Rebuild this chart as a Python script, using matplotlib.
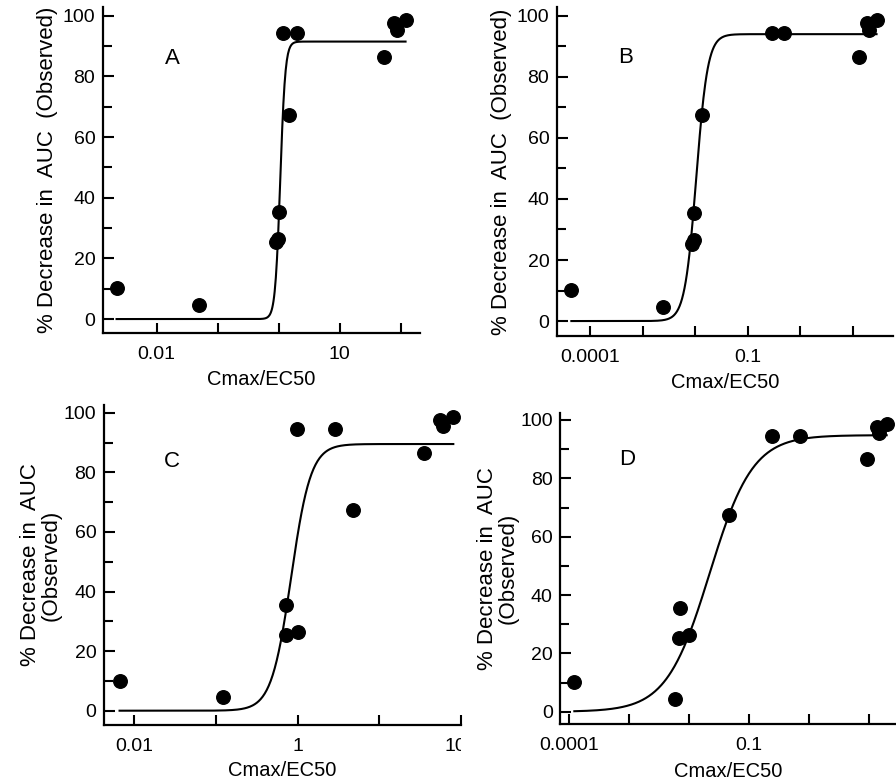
import matplotlib.pyplot as plt
import numpy as np
from matplotlib.ticker import FixedLocator, FixedFormatter, MultipleLocator
from matplotlib.transforms import Bbox, TransformedBbox, blended_transform_factory, offset_copy

plt.rcParams['font.family'] = ['Liberation Sans', 'DejaVu Sans']

# observed % decrease in AUC, same 12 drugs in every panel
observed = [10.1, 4.5, 25.4, 26.4, 35.4, 67.4, 94.4, 94.4, 86.5, 97.6, 95.4, 98.5]

# Cmax/EC50 for each drug, one list per panel (same order as observed)
ratio_A = [0.0022, 0.049, 0.90, 0.99, 1.02, 1.45, 1.19, 2.02, 53.3, 77.6, 88.1, 120.0]
ratio_B = [4.4e-5, 0.0024, 0.0085, 0.0093, 0.0095, 0.0132, 0.29, 0.48, 12.9, 18.2, 20.4, 28.2]
ratio_C = [0.0066, 0.121, 0.71, 1.0, 0.72, 4.71, 0.97, 2.86, 35.6, 55.3, 60.3, 80.5]
ratio_D = [1.24e-4, 0.0058, 0.0069, 0.0099, 0.0072, 0.0458, 0.238, 0.703, 9.04, 13.2, 14.7, 19.4]

# fitted sigmoid (top, log10 EC50, hill slope) for each panel
fit_A = (91.5, 0.025, 10.5)
fit_B = (94.0, -1.98, 3.97)
fit_C = (89.5, -0.08, 3.6)
fit_D = (94.8, -1.657, 1.21)

panel_letters = ['A', 'B', 'C', 'D']
tick_labels_A = {0.01: '0.01', 10: '10'}
tick_labels_B = {1e-4: '0.0001', 0.1: '0.1'}
tick_labels_C = {0.01: '0.01', 1: '1'}
tick_labels_D = {1e-4: '0.0001', 0.1: '0.1'}

W, H = 896, 784
fig = plt.figure(figsize=(W / 100, H / 100), dpi=100)


def px_rect(left, right, top, bottom):
    return [left / W, 1 - bottom / H, (right - left) / W, (bottom - top) / H]


def draw_panel(rect, ratio, fit, letter, letter_pos, xlim_log, ylim, tick_labels, ylabel, ylab_x, xlab_y):
    ax = fig.add_axes(rect)
    ax.set_xscale('log')

    x = np.logspace(np.log10(min(ratio)), np.log10(max(ratio)), 500)
    top, logec50, hill = fit
    y = top / (1 + 10 ** (hill * (logec50 - np.log10(x))))
    ax.plot(x, y, color='black', lw=1.5, zorder=2)
    ax.scatter(ratio, observed, s=95, color='black', zorder=3, clip_on=False)

    ax.set_xlim(10 ** xlim_log[0], 10 ** xlim_log[1])
    ax.set_ylim(*ylim)

    decades = [10.0 ** k for k in range(int(np.ceil(xlim_log[0])), int(np.floor(xlim_log[1])) + 1)]
    labels = []
    for d in decades:
        lab = ''
        for k, v in tick_labels.items():
            if abs(np.log10(k) - np.log10(d)) < 1e-6:
                lab = v
        labels.append(lab)
    ax.xaxis.set_major_locator(FixedLocator(decades))
    ax.xaxis.set_major_formatter(FixedFormatter(labels))
    ax.xaxis.set_minor_locator(FixedLocator([]))
    ax.yaxis.set_major_locator(MultipleLocator(20))
    ax.yaxis.set_minor_locator(MultipleLocator(10))

    ax.spines['top'].set_visible(False)
    ax.spines['right'].set_visible(False)
    ax.spines['left'].set_linewidth(1.6)
    ax.spines['bottom'].set_linewidth(1.6)
    ax.tick_params(axis='x', which='major', direction='in', length=7, width=1.5, pad=9.5, labelsize=14)
    ax.tick_params(axis='y', which='major', direction='in', length=8, width=1.5, pad=5.5, labelsize=14)
    ax.tick_params(axis='y', which='minor', direction='in', length=6.5, width=1.5)

    ax.set_xlabel('Cmax/EC50', fontsize=14.5)
    ax.xaxis.set_label_coords(0.5, xlab_y)
    ax.set_ylabel(ylabel, fontsize=16, linespacing=1.0)
    ax.yaxis.set_label_coords(ylab_x, 0.5)
    ax.text(letter_pos[0], letter_pos[1], letter, fontsize=16, ha='center', va='center')
    return ax


ax_a = draw_panel(px_rect(103, 420, 6.7, 333), ratio_A, fit_A, panel_letters[0], (10 ** -1.75, 86),
                  (-2.88, 2.316), (-4.6, 103), tick_labels_A, '% Decrease in  AUC  (Observed)', -0.142, -0.113)
ax_b = draw_panel(px_rect(557, 892.7, 7.3, 336), ratio_B, fit_B, panel_letters[1], (10 ** -3.32, 86.5),
                  (-4.63, 1.758), (-4.9, 102.8), tick_labels_B, '% Decrease in  AUC  (Observed)', -0.134, -0.1135)
ax_c = draw_panel(px_rect(104, 461, 405, 725), ratio_C, fit_C, panel_letters[2], (10 ** -1.54, 83.5),
                  (-2.371, 2.0), (-4.8, 102.6), tick_labels_C, '% Decrease in  AUC\n(Observed)', -0.119, -0.1116)
ax_d = draw_panel(px_rect(560.3, 896, 412.7, 724), ratio_D, fit_D, panel_letters[3], (10 ** -3.02, 86.3),
                  (-4.14, 1.443), (-4.2, 102.5), tick_labels_D, '% Decrease in  AUC\n(Observed)', -0.123, -0.121)

# the "100" label of panel C is cut off at the panel edge
trans = offset_copy(blended_transform_factory(ax_c.transData, ax_c.transAxes), fig=fig, x=0, y=-9.5, units='points')
t = fig.text(100, 0, '100', transform=trans, ha='center', va='top', fontsize=14)
t.set_clip_box(TransformedBbox(Bbox([[-0.5, -0.5], [1.0, 1.0]]), ax_c.transAxes))
t.set_clip_on(True)

fig.savefig('out.png', dpi=100)
